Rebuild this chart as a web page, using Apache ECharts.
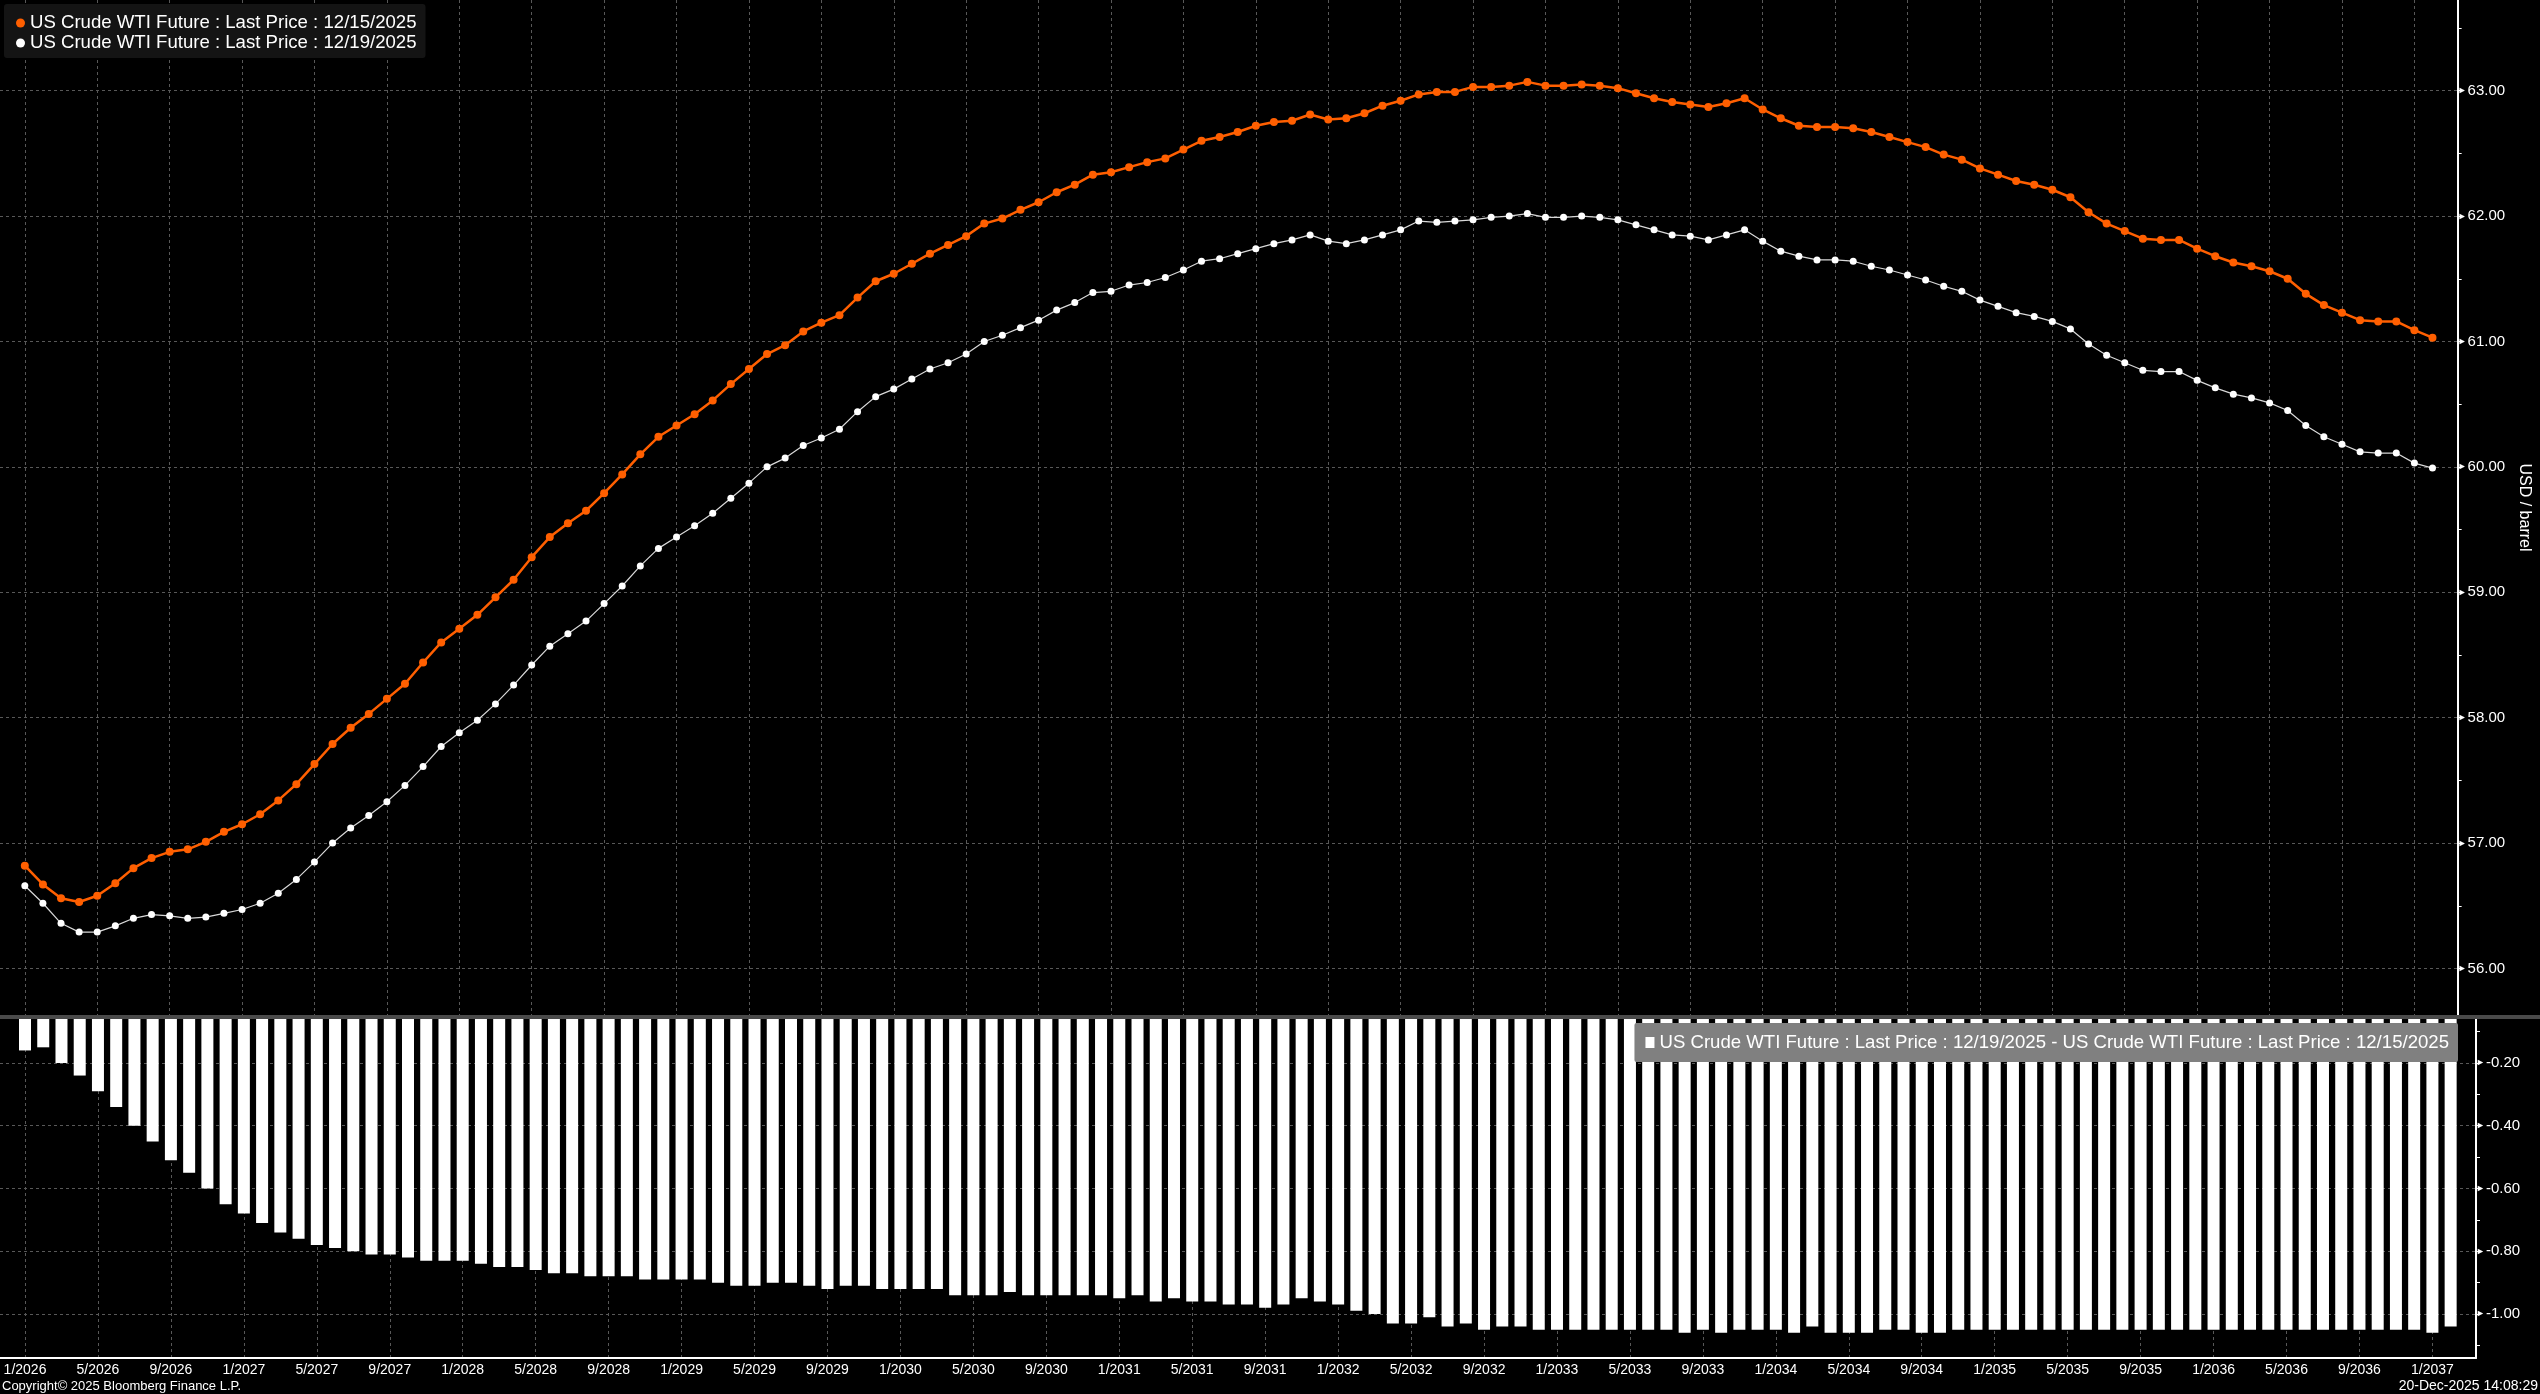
<!DOCTYPE html>
<html><head><meta charset="utf-8">
<script src="https://cdn.jsdelivr.net/npm/echarts@6/dist/echarts.min.js"></script>
<style>html,body{margin:0;padding:0;background:#000;}#c{width:2540px;height:1394px;}</style>
</head><body><div id="c"></div>
<script>
const name1215 = 'US Crude WTI Future : Last Price : 12/15/2025';
const name1219 = 'US Crude WTI Future : Last Price : 12/19/2025';
const spreadName = name1219 + ' - ' + name1215;
const firstYear = 2026;
const monthCount = 134;
const months = [];
for (let i = 0; i < monthCount; i++) { months.push(((i % 12) + 1) + '/' + (firstYear + Math.floor(i / 12))); }

const price1215 = [
 56.82,56.67,56.56,56.53,56.58,56.68,56.80,56.88,56.93,56.95,
 57.01,57.09,57.15,57.23,57.34,57.47,57.63,57.79,57.92,58.03,
 58.15,58.27,58.44,58.60,58.71,58.82,58.96,59.10,59.28,59.44,
 59.55,59.65,59.79,59.94,60.10,60.24,60.33,60.42,60.53,60.66,
 60.78,60.90,60.97,61.08,61.15,61.21,61.35,61.48,61.54,61.62,
 61.70,61.77,61.84,61.94,61.98,62.05,62.11,62.19,62.25,62.33,
 62.35,62.39,62.43,62.46,62.53,62.60,62.63,62.67,62.72,62.75,
 62.76,62.81,62.77,62.78,62.82,62.88,62.92,62.97,62.99,62.99,
 63.03,63.03,63.04,63.07,63.04,63.04,63.05,63.04,63.02,62.98,
 62.94,62.91,62.89,62.87,62.90,62.94,62.85,62.78,62.72,62.71,
 62.71,62.70,62.67,62.63,62.59,62.55,62.49,62.45,62.38,62.33,
 62.28,62.25,62.21,62.15,62.03,61.94,61.88,61.82,61.81,61.81,
 61.74,61.68,61.63,61.60,61.56,61.50,61.38,61.29,61.23,61.17,
 61.16,61.16,61.09,61.03
];
const price1219 = [
 56.66,56.52,56.36,56.29,56.29,56.34,56.40,56.43,56.42,56.40,
 56.41,56.44,56.47,56.52,56.60,56.71,56.85,57.00,57.12,57.22,
 57.33,57.46,57.61,57.77,57.88,57.98,58.11,58.26,58.42,58.57,
 58.67,58.77,58.91,59.05,59.21,59.35,59.44,59.53,59.63,59.75,
 59.87,60.00,60.07,60.17,60.23,60.30,60.44,60.56,60.62,60.70,
 60.78,60.83,60.90,61.00,61.05,61.11,61.17,61.25,61.31,61.39,
 61.40,61.45,61.47,61.51,61.57,61.64,61.66,61.70,61.74,61.78,
 61.81,61.85,61.80,61.78,61.81,61.85,61.89,61.96,61.95,61.96,
 61.97,61.99,62.00,62.02,61.99,61.99,62.00,61.99,61.97,61.93,
 61.89,61.85,61.84,61.81,61.85,61.89,61.80,61.72,61.68,61.65,
 61.65,61.64,61.60,61.57,61.53,61.49,61.44,61.40,61.33,61.28,
 61.23,61.20,61.16,61.10,60.98,60.89,60.83,60.77,60.76,60.76,
 60.69,60.63,60.58,60.55,60.51,60.45,60.33,60.24,60.18,60.12,
 60.11,60.11,60.03,59.99
];
const spread = [
 -0.16,-0.15,-0.20,-0.24,-0.29,-0.34,-0.40,-0.45,-0.51,-0.55,
 -0.60,-0.65,-0.68,-0.71,-0.74,-0.76,-0.78,-0.79,-0.80,-0.81,
 -0.81,-0.82,-0.83,-0.83,-0.83,-0.84,-0.85,-0.85,-0.86,-0.87,
 -0.87,-0.88,-0.88,-0.88,-0.89,-0.89,-0.89,-0.89,-0.90,-0.91,
 -0.91,-0.90,-0.90,-0.91,-0.92,-0.91,-0.91,-0.92,-0.92,-0.92,
 -0.92,-0.94,-0.94,-0.94,-0.93,-0.94,-0.94,-0.94,-0.94,-0.94,
 -0.95,-0.94,-0.96,-0.95,-0.96,-0.96,-0.97,-0.97,-0.98,-0.97,
 -0.95,-0.96,-0.97,-0.99,-1.00,-1.03,-1.03,-1.01,-1.04,-1.03,
 -1.05,-1.04,-1.04,-1.05,-1.05,-1.05,-1.05,-1.05,-1.05,-1.05,
 -1.05,-1.06,-1.05,-1.06,-1.05,-1.05,-1.05,-1.06,-1.04,-1.06,
 -1.06,-1.06,-1.05,-1.05,-1.06,-1.06,-1.05,-1.05,-1.05,-1.05,
 -1.05,-1.05,-1.05,-1.05,-1.05,-1.05,-1.05,-1.05,-1.05,-1.05,
 -1.05,-1.05,-1.05,-1.05,-1.05,-1.05,-1.05,-1.05,-1.05,-1.05,
 -1.05,-1.05,-1.06,-1.04
];
const xTickIndex = [0,4,8,12,16,20,24,28,32,36,40,44,48,52,56,60,64,68,72,76,80,84,88,92,96,100,104,108,112,116,120,124,128,132];
const priceTicks = [56,57,58,59,60,61,62,63];
const priceMinorTicks = [56,56.5,57,57.5,58,58.5,59,59.5,60,60.5,61,61.5,62,62.5,63,63.5];
const spreadTicks = [-0.2,-0.4,-0.6,-0.8,-1.0];
const spreadMinorTicks = [-0.1,-0.2,-0.3,-0.4,-0.5,-0.6,-0.7,-0.8,-0.9,-1.0,-1.1];

const ff = "'Liberation Sans', Arial, sans-serif";
const gridLine = { show: true, lineStyle: { color: '#585858', width: 1, type: [3, 3] } };
const xMin = -1.371, xMax = 134.39;
const priceMin = 55.629, priceMax = 63.723;
const spreadMin = -1.1402, spreadMax = -0.0598;

const yLabel = (ticks) => ({
  customValues: ticks, margin: 0,
  formatter: v => '{t|►}{v|' + v.toFixed(2) + '}',
  rich: {
    t: { color: '#fff', fontSize: 9, fontFamily: ff, padding: [0, 1, 0, 0] },
    v: { color: '#fff', fontSize: 15, fontFamily: ff }
  }
});
const minorAxis = (grid, min, max, ticks) => ({
  type: 'value', gridIndex: grid, position: 'right', min: min, max: max,
  axisLine: { show: false, onZero: false }, axisLabel: { show: false }, splitLine: { show: false },
  axisTick: { show: true, inside: false, customValues: ticks, length: 4, lineStyle: { color: '#fff', width: 1 } }
});

const chart = echarts.init(document.getElementById('c'), null, { renderer: 'canvas' });
chart.setOption({
  backgroundColor: '#000',
  animation: false,
  grid: [
    { left: 0, right: 64, top: 0, height: 1015 },
    { left: 0, right: 64, top: 1019, height: 339 }
  ],
  xAxis: [
    { type: 'value', gridIndex: 0, min: xMin, max: xMax,
      axisLine: { show: false, onZero: false }, axisTick: { show: false, customValues: xTickIndex },
      axisLabel: { show: false, customValues: xTickIndex }, splitLine: gridLine },
    { type: 'value', gridIndex: 1, min: xMin, max: xMax,
      axisLine: { show: true, onZero: false, lineStyle: { color: '#fff', width: 2 } },
      axisTick: { show: false, customValues: xTickIndex },
      axisLabel: { customValues: xTickIndex, formatter: v => months[v], color: '#fff', fontSize: 14, fontFamily: ff, margin: 5 },
      splitLine: gridLine }
  ],
  yAxis: [
    { type: 'value', gridIndex: 0, position: 'right', min: priceMin, max: priceMax,
      axisLine: { show: true, onZero: false, lineStyle: { color: '#fff', width: 2 } },
      axisTick: { show: false, customValues: priceTicks },
      axisLabel: yLabel(priceTicks), splitLine: gridLine,
      name: 'USD / barrel', nameLocation: 'middle', nameRotate: -90, nameGap: 58,
      nameTextStyle: { color: '#fff', fontSize: 16, fontFamily: ff } },
    minorAxis(0, priceMin, priceMax, priceMinorTicks),
    { type: 'value', gridIndex: 1, position: 'right', min: spreadMin, max: spreadMax,
      axisLine: { show: true, onZero: false, lineStyle: { color: '#fff', width: 2 } },
      axisTick: { show: false, customValues: spreadTicks },
      axisLabel: yLabel(spreadTicks), splitLine: gridLine },
    minorAxis(1, spreadMin, spreadMax, spreadMinorTicks)
  ],
  legend: [
    { data: [name1215, name1219], left: 4, top: 4, orient: 'vertical', icon: 'circle',
      itemWidth: 9, itemHeight: 9, itemGap: 0, padding: [9, 9, 5, 12],
      backgroundColor: '#141414', borderRadius: 3, selectedMode: false,
      textStyle: { color: '#fff', fontSize: 18.6, fontFamily: ff, lineHeight: 20 } },
    { data: [spreadName], right: 82, top: 1023, icon: 'rect',
      itemWidth: 9, itemHeight: 11, padding: [9, 9, 9, 11],
      backgroundColor: '#808080', borderRadius: 2, selectedMode: false,
      textStyle: { color: '#fff', fontSize: 18.6, fontFamily: ff, lineHeight: 21 } }
  ],
  series: [
    { name: name1219, type: 'line', xAxisIndex: 0, yAxisIndex: 0,
      data: price1219.map((v, i) => [i, v]), symbol: 'circle', symbolSize: 7,
      lineStyle: { color: '#d8d8d8', width: 1.2 }, itemStyle: { color: '#fff' }, z: 2 },
    { name: name1215, type: 'line', xAxisIndex: 0, yAxisIndex: 0,
      data: price1215.map((v, i) => [i, v]), symbol: 'circle', symbolSize: 8,
      lineStyle: { color: '#ff5f00', width: 2.5 }, itemStyle: { color: '#ff5f00' }, z: 3 },
    { name: spreadName, type: 'bar', xAxisIndex: 1, yAxisIndex: 2,
      data: spread.map((v, i) => [i, v]), barWidth: 12, itemStyle: { color: '#fff' } }
  ],
  graphic: [
    { type: 'rect', shape: { x: 0, y: 1015, width: 2540, height: 4 }, style: { fill: '#4a4a4a' }, z: 10 },
    { type: 'text', left: 2, top: 1380, style: { text: 'Copyright© 2025 Bloomberg Finance L.P.', fill: '#fff', font: '13px ' + ff } },
    { type: 'text', right: 2, top: 1379, style: { text: '20-Dec-2025 14:08:29', fill: '#fff', font: '14px ' + ff } }
  ]
});
</script></body></html>
